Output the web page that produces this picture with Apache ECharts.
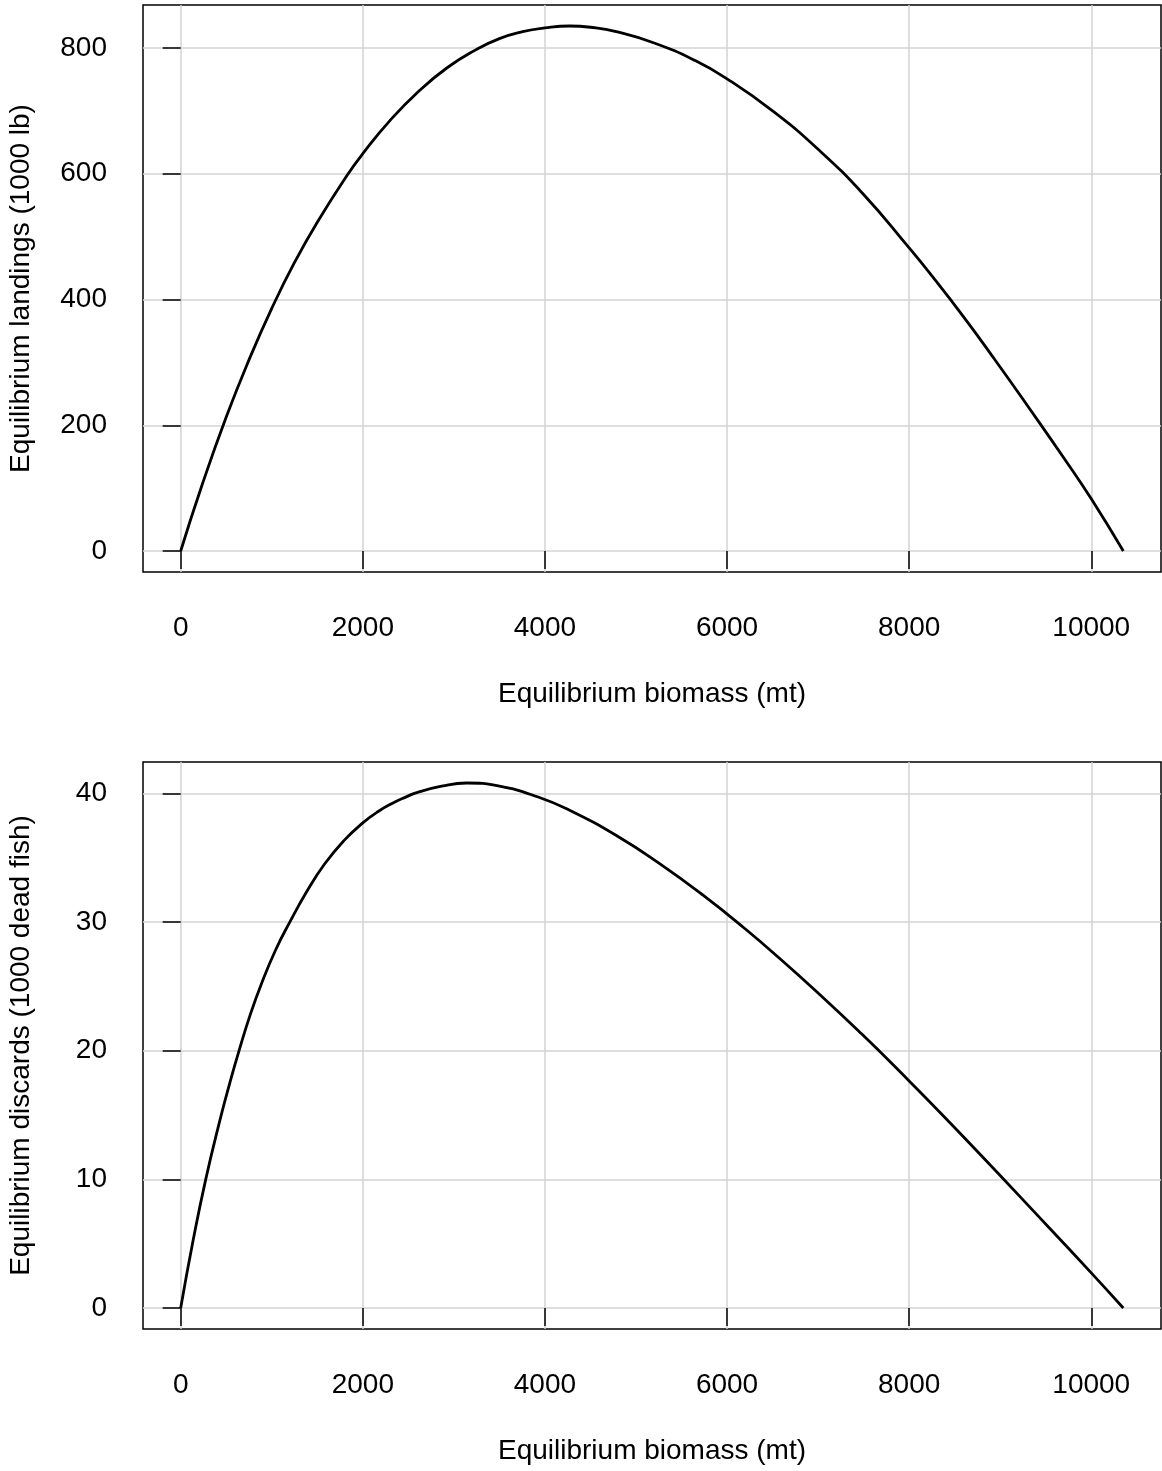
<!DOCTYPE html>
<html><head><meta charset="utf-8">
<script src="https://cdn.jsdelivr.net/npm/echarts@6/dist/echarts.min.js"></script>
<style>html,body{margin:0;padding:0;background:#fff}#c{width:1162px;height:1471px}</style>
</head><body><div id="c"></div>
<script>
// Values
const biomassTop = [0, 230, 500, 750, 1000, 1250, 1500, 1830, 2000, 2300, 2620, 2930, 3240, 3500, 3755, 4000, 4271, 4500, 4784, 5200, 5650, 6000, 6500, 7000, 7500, 8000, 8220, 8600, 8938, 9300, 9718, 10000, 10352];
const landings   = [0, 103, 213, 304, 386, 459, 523, 598, 632, 685, 732, 769, 797, 815, 826, 832, 835, 833, 826, 808, 780, 751, 700, 639, 567, 482, 443, 372, 305, 231, 144, 83, 0];
const biomassBottom = [0, 135, 275, 431, 536, 641, 764, 887, 1041, 1195, 1388, 1580, 1790, 2000, 2173, 2347, 2470, 2593, 2866, 3140, 3488, 3918, 4282, 4802, 5260, 5740, 6198, 6579, 7000, 7450, 7835, 8522, 9522, 10000, 10352];
const discards      = [0, 5.2, 10.0, 14.6, 17.4, 20.0, 22.8, 25.2, 27.8, 29.95, 32.4, 34.5, 36.3, 37.7, 38.6, 39.3, 39.7, 40.05, 40.55, 40.8, 40.57, 39.73, 38.64, 36.64, 34.53, 32.06, 29.47, 27.16, 24.48, 21.49, 18.82, 13.86, 6.36, 2.73, 0];
const xTicks = [0, 2000, 4000, 6000, 8000, 10000];
const yTicksTop = [0, 200, 400, 600, 800];
const yTicksBottom = [0, 10, 20, 30, 40];
const xTitle = 'Equilibrium biomass (mt)';
const yTitleTop = 'Equilibrium landings (1000 lb)';
const yTitleBottom = 'Equilibrium discards (1000 dead fish)';

const FONT = '"Liberation Sans", Arial, Helvetica, sans-serif';
const txt = {fontSize: 28, color: '#000', fontFamily: FONT};
const plain = v => String(v);

function pairs(xs, ys) { return xs.map((x, i) => [x, ys[i]]); }

function xAxisCfg(gi) {
  return {
    type: 'value', gridIndex: gi, min: -414, max: 10766,
    axisLine: {show: false},
    axisTick: {show: true, inside: false, length: 18, customValues: xTicks, lineStyle: {color: '#000', width: 1.5}},
    axisLabel: Object.assign({customValues: xTicks, margin: 42, formatter: plain}, txt),
    splitLine: {show: true, lineStyle: {color: '#d3d3d3', width: 1.5}},
    name: xTitle, nameLocation: 'middle', nameGap: 108, nameTextStyle: Object.assign({}, txt)
  };
}
function yAxisCfg(gi, min, max, ticks, title) {
  return {
    type: 'value', gridIndex: gi, min: min, max: max,
    axisLine: {show: false},
    axisTick: {show: true, inside: false, length: 18, customValues: ticks, lineStyle: {color: '#000', width: 1.5}},
    axisLabel: Object.assign({customValues: ticks, margin: 36, formatter: plain}, txt),
    splitLine: {show: true, lineStyle: {color: '#d3d3d3', width: 1.5}},
    name: title, nameLocation: 'middle', nameGap: 108, nameTextStyle: Object.assign({}, txt)
  };
}

const chart = echarts.init(document.getElementById('c'), null, {renderer: 'canvas'});
chart.setOption({
  animation: false,
  backgroundColor: '#fff',
  grid: [
    {left: 143, top: 5, width: 1018, height: 567, show: true, borderColor: '#000', borderWidth: 1.5, backgroundColor: 'transparent', containLabel: false, outerBoundsMode: 'none'},
    {left: 143, top: 762, width: 1018, height: 567, show: true, borderColor: '#000', borderWidth: 1.5, backgroundColor: 'transparent', containLabel: false, outerBoundsMode: 'none'}
  ],
  xAxis: [xAxisCfg(0), xAxisCfg(1)],
  yAxis: [
    yAxisCfg(0, -33.4, 868.4, yTicksTop, yTitleTop),
    yAxisCfg(1, -1.63, 42.43, yTicksBottom, yTitleBottom)
  ],
  series: [
    {type: 'line', xAxisIndex: 0, yAxisIndex: 0, data: pairs(biomassTop, landings), showSymbol: false, smooth: 0.5,
     lineStyle: {color: '#000', width: 2.8}, z: 5},
    {type: 'line', xAxisIndex: 1, yAxisIndex: 1, data: pairs(biomassBottom, discards), showSymbol: false, smooth: 0.5,
     lineStyle: {color: '#000', width: 2.8}, z: 5}
  ]
});
</script></body></html>
